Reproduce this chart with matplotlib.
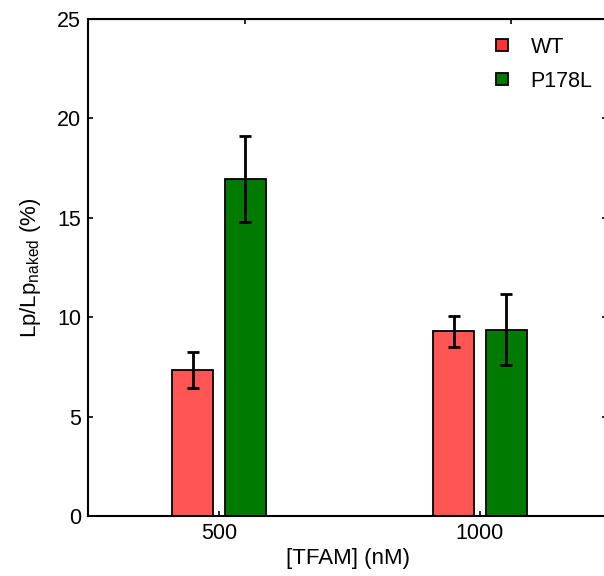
import matplotlib
matplotlib.use("Agg")
import matplotlib.pyplot as plt
from matplotlib.lines import Line2D
import numpy as np

# data
conc = ["500", "1000"]
wt_vals = [7.35, 9.3]
wt_err = [0.9, 0.78]
mut_vals = [16.95, 9.38]
mut_err = [2.15, 1.8]

plt.rcParams['font.family'] = ['Liberation Sans', 'DejaVu Sans']

fig = plt.figure(figsize=(6.04, 5.76), dpi=100)
ax = fig.add_axes([88/604, 60/576, 519/604, 497/576])

x = np.arange(len(conc))
w = 0.157
off = 0.1
ekw = dict(ecolor='black', elinewidth=2, capsize=4.5, capthick=2)
ax.bar(x - off, wt_vals, w, yerr=wt_err, color='#ff5555', edgecolor='black',
       linewidth=1.3, error_kw=ekw, zorder=2)
ax.bar(x + off, mut_vals, w, yerr=mut_err, color='#007a00', edgecolor='black',
       linewidth=1.3, error_kw=ekw, zorder=2)

ax.set_xlim(-0.502, 1.487)
ax.set_ylim(0, 25)
ax.set_xticks(x)
ax.set_xticklabels(conc)
ax.set_yticks([0, 5, 10, 15, 20, 25])
ax.tick_params(direction='in', length=3.5, width=1.2, labelsize=15.5,
               right=True, pad=5)
for s in ax.spines.values():
    s.set_linewidth(1.5)

# odd top ticks in the original
top = ax.secondary_xaxis('top')
top.set_xticks([0.1, 1.12])
top.set_xticklabels(['', ''])
top.tick_params(direction='in', length=3.5, width=1.2)

ax.set_xlabel('[TFAM] (nM)', fontsize=16, labelpad=3)
ax.set_ylabel(r'Lp/Lp$_{\mathregular{naked}}$ (%)', fontsize=16, labelpad=10)

handles = [Line2D([], [], ls='none', marker='s', markersize=8, markerfacecolor='#ff3333',
                  markeredgecolor='black', markeredgewidth=1.3),
           Line2D([], [], ls='none', marker='s', markersize=8, markerfacecolor='#007a00',
                  markeredgecolor='black', markeredgewidth=1.3)]
leg = ax.legend(handles, ['WT', 'P178L'], loc='upper left',
                bbox_to_anchor=(492/604, 1 - 37/576), bbox_transform=fig.transFigure,
                frameon=False, fontsize=15.5, handlelength=0.9, handletextpad=0.9,
                labelspacing=0.6, borderaxespad=0, borderpad=0)

fig.savefig('out.png', dpi=100)
